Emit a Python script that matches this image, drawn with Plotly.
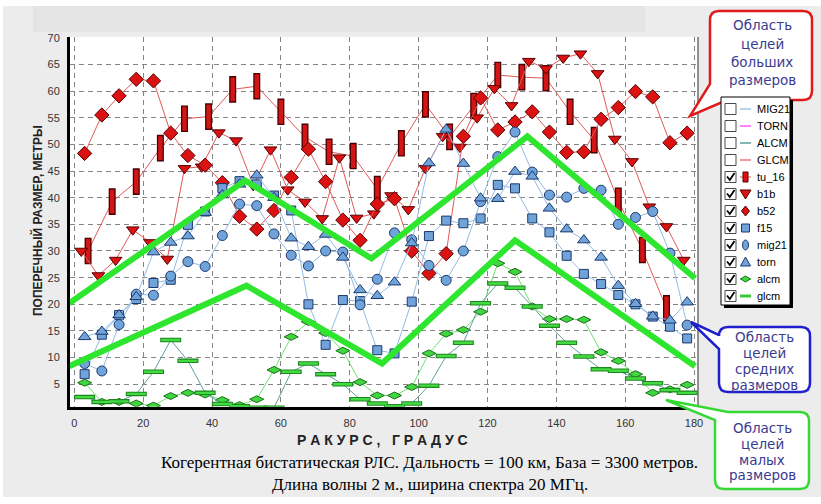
import plotly.graph_objects as go

# ---------------- data ----------------
angles_tu16 = [4, 11, 18, 25, 32, 39, 46, 53, 60, 67, 74, 81, 88, 95, 102, 109, 116, 123, 130, 137, 144, 151, 158, 165, 172]
tu_16 = [30.0, 39.25, 43.0, 49.3, 54.8, 55.2, 60.3, 60.9, 56.1, 51.4, 48.6, 47.8, 41.6, 50.2, 57.5, 51.4, 57.2, 63.0, 62.6, 62.4, 56.1, 50.8, 39.4, 30.2, 19.25]

angles_b1b = [2, 7, 12, 17, 22, 27, 32, 37, 42, 47, 52, 57, 62, 67, 72, 77, 82, 87, 92, 97, 102, 107, 112, 117,
              122, 127, 132, 137, 142, 147, 152, 157, 162, 167, 172, 177]
b1b = [30.0, 25.4, 28.3, 34.0, 31.6, 28.5, 45.5, 45.8, 52.2, 50.7, 42.3, 49.0, 41.5, 39.2, 36.1, 47.5, 36.2, 37.0,
       40.4, 37.8, 45.5, 51.5, 49.5, 55.0, 60.5, 57.3, 65.6, 64.2, 66.2, 67.0, 63.3, 51.0, 46.8, 38.3, 34.6, 28.3]

angles = [3, 8, 13, 18, 23, 28, 33, 38, 43, 48, 53, 58, 63, 68, 73, 78, 83, 88, 93, 98, 103, 108, 113, 118,
          123, 128, 133, 138, 143, 148, 153, 158, 163, 168, 173, 178]
b52 = [48.3, 55.5, 59.1, 62.2, 61.9, 52.1, 47.9, 46.1, 42.8, 36.5, 34.1, 37.6, 43.8, 49.1, 43.0, 35.8, 32.0, 38.8,
       39.8, 30.0, 25.8, 29.5, 51.5, 58.7, 52.7, 54.2, 56.1, 52.3, 48.5, 48.6, 54.7, 56.9, 59.9, 58.9, 50.3, 52.1]
f15 = [6.9, 14.3, 18.0, 21.0, 24.0, 24.6, 34.9, 37.4, 41.8, 43.1, 42.5, 40.4, 37.6, 20.0, 12.4, 20.8, 20.6, 11.4,
       10.8, 20.5, 32.8, 35.7, 35.2, 36.1, 42.4, 41.75, 36.1, 33.5, 29.1, 25.7, 23.8, 21.75, 20.0, 17.7, 15.8, 13.6]
mig21 = [8.9, 7.5, 16.2, 21.9, 21.7, 25.3, 28.0, 27.1, 32.9, 38.8, 38.5, 33.2, 29.2, 27.2, 30.0, 29.8, 19.9, 24.7,
         33.4, 32.1, 27.3, 24.5, 30.0, 39.25, 47.7, 52.3, 44.8, 40.5, 40.1, 41.75, 41.4, 35.0, 36.3, 37.4, 29.6, 16.1]
torn = [13.9, 14.9, 18.0, 21.4, 29.8, 31.6, 32.8, 37.2, 40.5, 42.5, 44.2, 40.0, 32.4, 30.8, 33.1, 28.8, 22.7, 21.6,
        24.15, 31.5, 46.5, 52.8, 46.4, 39.9, 39.8, 44.9, 44.0, 38.0, 34.1, 32.05, 28.8, 23.5, 20.1, 17.75, 17.0, 20.4]
alcm = [5.3, 1.7, 1.7, 1.4, 1.0, 2.8, 3.4, 3.1, 2.05, 1.1, 2.2, 7.7, 13.9, 16.7, 14.6, 11.3, 5.4, 2.9,
        2.9, 4.5, 10.8, 14.5, 15.2, 18.6, 27.7, 26.1, 19.6, 17.25, 17.25, 17.1, 11.0, 9.4, 6.9, 3.4, 4.05, 4.9]
glcm = [2.6, 1.7, 1.8, 3.2, 7.35, 13.3, 9.4, 3.4, 1.3, 0.9, 0.6, 0.6, 7.35, 8.9, 6.9, 5.0, 2.2, 1.4,
        0.9, 1.4, 4.75, 10.3, 12.8, 20.2, 23.9, 23.1, 19.6, 16.0, 12.8, 10.2, 7.8, 7.55, 6.1, 5.2, 3.9, 3.4]

# region boundaries (thick green polylines)
upper_x = [-1.5, 49.6, 86.3, 131.6, 180.3]
upper_y = [20.2, 43.2, 28.6, 51.5, 24.9]
lower_x = [-1.5, 50.0, 89.4, 128.0, 180.3]
lower_y = [8.4, 23.5, 8.9, 32.0, 8.4]

x_ticks = [0, 20, 40, 60, 80, 100, 120, 140, 160, 180]
y_ticks = [5, 10, 15, 20, 25, 30, 35, 40, 45, 50, 55, 60, 65, 70]

legend_labels = ["MIG21", "TORN", "ALCM", "GLCM", "tu_16", "b1b", "b52", "f15", "mig21", "torn", "alcm", "glcm"]
legend_checked = [False, False, False, False, True, True, True, True, True, True, True, True]

# ---------------- styling ----------------
W, H = 821, 504


def fx(px):
    return px / W


def fy(py):
    return 1 - py / H


RED_LINE, RED_FILL, RED_EDGE = "#e25858", "#dc1212", "#560000"
BLUE_LINE, BLUE_FILL, BLUE_EDGE = "#93bbe6", "#6fa3d9", "#1c3a6c"
GREEN_FILL, GREEN_EDGE = "#3fd63f", "#1b6e1b"
ALCM_LINE, GLCM_LINE = "#6fe06f", "#5f9e9e"
BOUND = "#2ee62e"

fig = go.Figure()


def add_series(x, y, line_color, symbol, size, fill, edge, edge_w=1.0, mode="lines+markers"):
    fig.add_trace(go.Scatter(
        x=x, y=y, mode=mode, hoverinfo="skip",
        line=dict(color=line_color, width=1),
        marker=dict(symbol=symbol, size=size, color=fill, line=dict(color=edge, width=edge_w))))


# red group
add_series(angles_tu16, tu_16, RED_LINE, "line-ns", 19, RED_EDGE, "#4a0000", 7)
add_series(angles_tu16, tu_16, RED_LINE, "line-ns", 17, RED_FILL, "#d41515", 4.4, mode="markers")
add_series(angles_b1b, b1b, RED_LINE, "triangle-down", 11, RED_FILL, RED_EDGE)
add_series(angles, b52, RED_LINE, "diamond", 11, RED_FILL, RED_EDGE)
# blue group
add_series(angles, f15, BLUE_LINE, "square", 9, BLUE_FILL, BLUE_EDGE)
add_series(angles, mig21, BLUE_LINE, "circle", 10, BLUE_FILL, BLUE_EDGE)
add_series(angles, torn, BLUE_LINE, "triangle-up", 11, BLUE_FILL, BLUE_EDGE)
# green group
add_series(angles, alcm, ALCM_LINE, "diamond-wide", 10, GREEN_FILL, GREEN_EDGE)
add_series(angles, glcm, GLCM_LINE, "line-ew", 15, GREEN_EDGE, "#1e861e", 4.5)
add_series(angles, glcm, GLCM_LINE, "line-ew", 13.5, GREEN_FILL, "#42dc42", 2.4, mode="markers")

# region boundaries
for bx, by in [(upper_x, upper_y), (lower_x, lower_y)]:
    fig.add_trace(go.Scatter(x=bx, y=by, mode="lines", hoverinfo="skip",
                             line=dict(color=BOUND, width=6)))

# ---------------- shapes ----------------
shapes = []


def rect(x0, y0, x1, y1, fill, line="rgba(0,0,0,0)", lw=0, layer="above"):
    shapes.append(dict(type="rect", xref="paper", yref="paper", x0=fx(x0), x1=fx(x1), y0=fy(y1), y1=fy(y0),
                       fillcolor=fill, line=dict(color=line, width=lw), layer=layer))


def seg(x0, y0, x1, y1, color, w):
    shapes.append(dict(type="line", xref="paper", yref="paper", x0=fx(x0), x1=fx(x1), y0=fy(y0), y1=fy(y1),
                       line=dict(color=color, width=w), layer="above"))


def path(cmds, fill, line, lw):
    out = []
    for c in cmds:
        if c == "Z":
            out.append("Z")
            continue
        op, *pts = c
        out.append(op + " ".join(f"{fx(px):.5f},{fy(py):.5f}" for px, py in pts))
    shapes.append(dict(type="path", xref="paper", yref="paper", path=" ".join(out),
                       fillcolor=fill, line=dict(color=line, width=lw), layer="above"))


# background panels
rect(0, 0, W, 6, "white", layer="below")
rect(0, 497, W, H, "white", layer="below")
rect(0, 0, 3, H, "white", layer="below")
rect(33, 6, 645, 32, "#e4e4e4", layer="below")
# right border of plotting area
seg(698, 37, 698, 407, "#6e6e6e", 1.5)

# callouts (rounded boxes with pointer tails)
r = 9
# big targets (red)
path([("M", (710 + r, 11)), ("L", (812 - r, 11)), ("Q", (812, 11), (812, 11 + r)),
      ("L", (812, 100 - r)), ("Q", (812, 100), (812 - r, 100)), ("L", (727, 100)), ("L", (690, 116)),
      ("L", (710, 84)), ("L", (710, 11 + r)), ("Q", (710, 11), (710 + r, 11)), "Z"], "white", "#e01a1a", 2.5)
# medium targets (blue)
path([("M", (719 + r, 327)), ("L", (810 - r, 327)), ("Q", (810, 327), (810, 327 + r)),
      ("L", (810, 392 - r)), ("Q", (810, 392), (810 - r, 392)), ("L", (719 + r, 392)),
      ("Q", (719, 392), (719, 392 - r)), ("L", (719, 349)), ("L", (691, 322)), ("L", (719, 335)),
      ("L", (719, 327 + r)), ("Q", (719, 327), (719 + r, 327)), "Z"], "white", "#1f1fcf", 2.5)
# small targets (green)
path([("M", (728, 412)), ("L", (809 - r, 412)), ("Q", (809, 412), (809, 412 + r)),
      ("L", (809, 489 - r)), ("Q", (809, 489), (809 - r, 489)), ("L", (715 + r, 489)),
      ("Q", (715, 489), (715, 489 - r)), ("L", (715, 420)), ("L", (666, 400)), "Z"], "white", "#36d836", 2.5)

# legend box
rect(724, 100, 793, 308, "black")
rect(721, 97, 790, 305, "white", "black", 1)

# ---------------- annotations ----------------
annotations = []


def text(px, py, s, size, color="black", family="Liberation Sans, Arial", xanchor="center", angle=0):
    annotations.append(dict(xref="paper", yref="paper", x=fx(px), y=fy(py), text=s, showarrow=False,
                            xanchor=xanchor, yanchor="middle", textangle=angle,
                            font=dict(size=size, color=color, family=family)))


for i, (lab, chk) in enumerate(zip(legend_labels, legend_checked)):
    y = 109 + 17 * i
    rect(725, y - 5.5, 736, y + 5.5, "white", "#4a4a4a", 1)
    if chk:
        path([("M", (727, y - 0.5)), ("L", (729.8, y + 3)), ("L", (734.5, y - 4))], "rgba(0,0,0,0)", "black", 1.8)
    if lab == "MIG21":
        seg(740, y, 751, y, "#9fc5e8", 1.5)
    elif lab == "TORN":
        seg(740, y, 751, y, "#ff5cff", 1.5)
    elif lab == "ALCM":
        seg(740, y, 751, y, "#5f9e9e", 1.5)
    elif lab == "GLCM":
        seg(740, y, 751, y, "#f07a7a", 1.5)
    elif lab == "tu_16":
        seg(740, y, 751, y, RED_LINE, 1)
        rect(743, y - 5, 748, y + 5, RED_FILL, RED_EDGE, 1)
    elif lab == "b1b":
        path([("M", (740, y - 4)), ("L", (751, y - 4)), ("L", (745.5, y + 5)), "Z"], RED_FILL, RED_EDGE, 1)
    elif lab == "b52":
        path([("M", (745.5, y - 5)), ("L", (749.5, y)), ("L", (745.5, y + 5)), ("L", (741.5, y)), "Z"],
             RED_FILL, RED_EDGE, 1)
    elif lab == "f15":
        rect(741.5, y - 4, 749.5, y + 4, BLUE_FILL, BLUE_EDGE, 1)
    elif lab == "mig21":
        shapes.append(dict(type="circle", xref="paper", yref="paper", x0=fx(742.5), x1=fx(748.5),
                           y0=fy(y + 5), y1=fy(y - 5), fillcolor=BLUE_FILL, line=dict(color=BLUE_EDGE, width=1),
                           layer="above"))
    elif lab == "torn":
        path([("M", (740.5, y + 4)), ("L", (750.5, y + 4)), ("L", (745.5, y - 5)), "Z"], BLUE_FILL, BLUE_EDGE, 1)
    elif lab == "alcm":
        seg(740, y, 751, y, ALCM_LINE, 1)
        path([("M", (740.5, y)), ("L", (745.5, y - 3)), ("L", (750.5, y)), ("L", (745.5, y + 3)), "Z"],
             GREEN_FILL, GREEN_EDGE, 1)
    elif lab == "glcm":
        seg(740, y, 751, y, "#36c936", 3)
    text(755, y, lab, 11, xanchor="left")

# callout texts
CALL = "#3b3b8f"
for lines, ys, cx in [
    (["Область", "целей", "больших", "размеров"], [25, 43.5, 61.5, 79.5], 762),
    (["Область", "целей", "средних", "размеров"], [337, 353, 369, 385], 764),
    (["Область", "целей", "малых", "размеров"], [427.5, 443.5, 459.5, 475], 762),
]:
    for s, yy in zip(lines, ys):
        text(cx, yy, s, 13.5, CALL, "DejaVu Sans, Verdana")

# axis titles
text(37, 221, "<b>ПОПЕРЕЧНЫЙ РАЗМЕР, МЕТРЫ</b>", 12, "#222", angle=-90)
text(382, 439.5, "<b>Р А К У Р С ,\u00a0\u00a0\u00a0Г Р А Д У С</b>", 14, "#222")
# caption
text(429, 462, "Когерентная бистатическая РЛС. Дальность = 100 км, База = 3300 метров.", 17, "black",
     "Liberation Serif, Times New Roman")
text(429.5, 484, "Длина волны 2 м., ширина спектра 20 МГц.", 17, "black", "Liberation Serif, Times New Roman")

GRID = "#858585"
fig.update_layout(
    width=W, height=H, margin=dict(l=0, r=0, t=0, b=0, autoexpand=False),
    paper_bgcolor="#ececec", plot_bgcolor="white", showlegend=False,
    xaxis=dict(domain=[fx(70), fx(698)], range=[-1.25, 181.15], tickvals=x_ticks, automargin=False,
               showgrid=True, gridcolor=GRID, griddash="5px,4px", gridwidth=1,
               showline=True, linecolor="black", linewidth=3, zeroline=False, ticks="", ticklen=0,
               ticklabelstandoff=4,
               tickfont=dict(family="Liberation Sans, Arial", size=11, color="#333")),
    yaxis=dict(domain=[fy(406.7), fy(37)], range=[0.8, 70.13], tickvals=y_ticks, automargin=False,
               showgrid=True, gridcolor=GRID, griddash="5px,4px", gridwidth=1,
               showline=True, linecolor="black", linewidth=3, zeroline=False, ticks="", ticklen=0,
               ticklabelstandoff=5,
               tickfont=dict(family="Liberation Sans, Arial", size=11, color="#333")),
    shapes=shapes, annotations=annotations,
)

fig.write_html("out.html", config={"displayModeBar": False},
               post_script="document.body.style.margin='0px';")
